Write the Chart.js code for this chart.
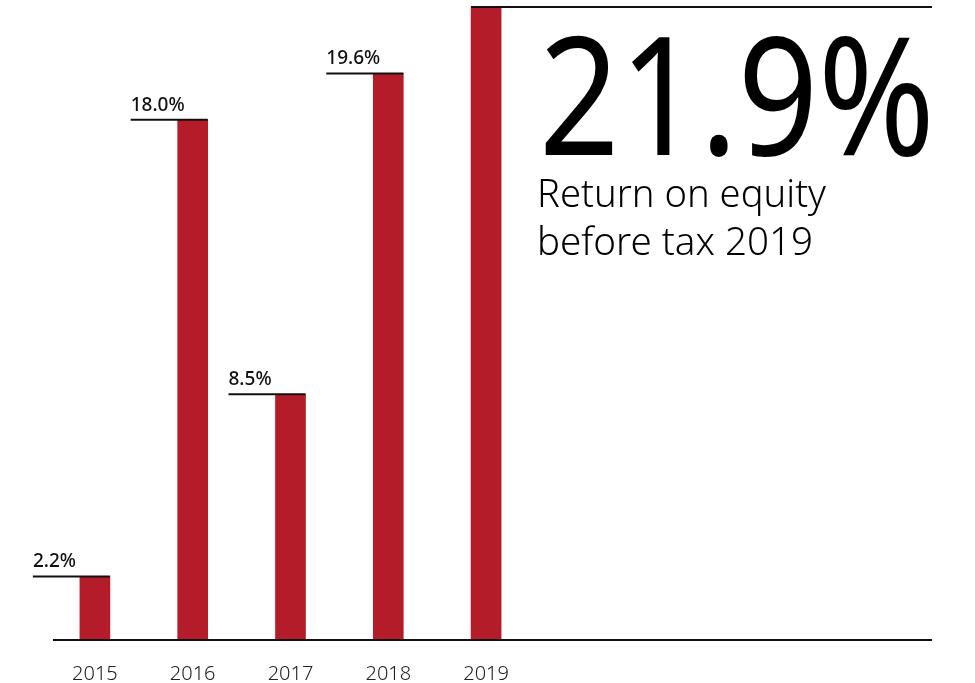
<!DOCTYPE html>
<html>
<head>
<meta charset="utf-8">
<script src="https://cdn.jsdelivr.net/npm/chart.js@4.4.1/dist/chart.umd.min.js"></script>
<style>
    html, body { margin: 0; padding: 0; background: #fff; }
    #wrap { width: 975px; height: 683px; position: relative; }
</style>
</head>
<body>
<div id="wrap"><canvas id="roe-chart"></canvas></div>
<script>
let years = ["2015", "2016", "2017", "2018", "2019"];
let roeValues = [2.2, 18.0, 8.5, 19.6, 21.9];
let headlineLines = ["Return on equity", "before tax 2019"];

let barRed = "#b51c2a";
let textFont = "'Noto Sans', 'Open Sans', sans-serif";

// value labels: a short rule at each bar top with the figure above it,
// the last year gets the large headline figure instead
let valueLabels = {
    id: "valueLabels",
    afterDatasetsDraw: function (chart) {
        let ctx = chart.ctx;
        let bars = chart.getDatasetMeta(0).data;
        let last = bars.length - 1;
        ctx.save();
        ctx.strokeStyle = "#111";
        ctx.lineWidth = 2;
        ctx.fillStyle = "#111";
        ctx.textBaseline = "alphabetic";
        ctx.textAlign = "left";

        for (let i = 0; i < last; i++) {
            let b = bars[i];
            let left = b.x - b.width / 2 - 47;
            let right = b.x + b.width / 2;
            ctx.beginPath();
            ctx.moveTo(left, b.y);
            ctx.lineTo(right, b.y);
            ctx.stroke();
            ctx.font = "500 19px " + textFont;
            ctx.fillText(roeValues[i].toFixed(1) + "%", left, b.y - 9);
        }

        let top = bars[last];
        let x0 = top.x - top.width / 2;
        ctx.beginPath();
        ctx.moveTo(x0, top.y);
        ctx.lineTo(932, top.y);
        ctx.stroke();

        ctx.fillStyle = "#000";
        ctx.font = "400 164px " + textFont;
        ctx.fillText(roeValues[last].toFixed(1) + "%", 539, 155, 396);

        ctx.font = "300 39px " + textFont;
        ctx.fillText(headlineLines[0], 537, 207, 289);
        ctx.fillText(headlineLines[1], 537, 255, 276);
        ctx.restore();
    }
};

// baseline running under the bars across to the right edge
let baseLine = {
    id: "baseLine",
    afterDatasetsDraw: function (chart) {
        let ctx = chart.ctx;
        let y = chart.scales.y.getPixelForValue(0);
        ctx.save();
        ctx.strokeStyle = "#111";
        ctx.lineWidth = 2;
        ctx.beginPath();
        ctx.moveTo(53, y);
        ctx.lineTo(932, y);
        ctx.stroke();
        ctx.restore();
    }
};

new Chart(document.getElementById("roe-chart"), {
    type: "bar",
    data: {
        labels: years,
        datasets: [{
            label: "Return on equity before tax",
            data: roeValues,
            backgroundColor: barRed,
            borderWidth: 0,
            barThickness: 30
        }]
    },
    options: {
        responsive: true,
        maintainAspectRatio: false,
        animation: false,
        layout: {
            padding: { left: 46, right: 440, top: 4, bottom: 0 }
        },
        plugins: {
            legend: { display: false },
            tooltip: { enabled: false }
        },
        scales: {
            x: {
                grid: { display: false, drawTicks: false },
                border: { display: false },
                ticks: {
                    color: "#222",
                    font: { family: textFont, size: 20, weight: 300 },
                    padding: 22
                },
                afterFit: function (scale) {
                    scale.height = 43;
                }
            },
            y: {
                display: false,
                min: 0,
                max: 22
            }
        }
    },
    plugins: [baseLine, valueLabels]
});
</script>
</body>
</html>
